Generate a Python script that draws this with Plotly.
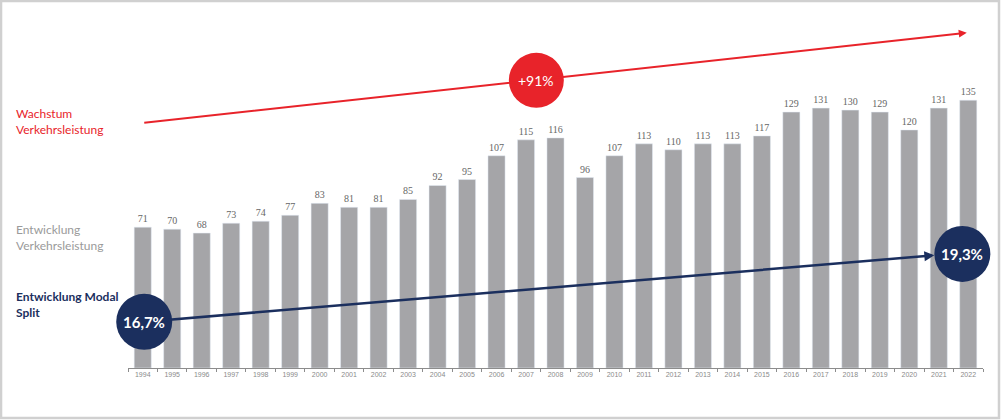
import plotly.graph_objects as go

years = [str(y) for y in range(1994, 2023)]
leistung = [71, 70, 68, 73, 74, 77, 83, 81, 81, 85, 92, 95, 107, 115, 116,
            96, 107, 113, 110, 113, 113, 117, 129, 131, 130, 129, 120, 131, 135]
wachstum_label = "+91%"
modal_split = ["16,7%", "19,3%"]

red = "#e8232a"
navy = "#1b2f5e"
grey_bar = "#a5a5a8"

n = len(years)


def px_(idx):
    # category index -> paper x (range is [-0.5, n-0.5])
    return (idx + 0.5) / n


fig = go.Figure()
fig.add_bar(x=years, y=leistung, marker_color=grey_bar, width=0.58,
            text=leistung, textposition="outside",
            textfont=dict(family="Liberation Serif", size=10, color="#666666"),
            cliponaxis=False, hoverinfo="x+y")

annotations = [
    # red growth arrow
    dict(x=27.95, y=169, ax=0.0, ay=123.5, xref="x", yref="y", axref="x", ayref="y",
         showarrow=True, arrowhead=2, arrowsize=0.8, arrowwidth=2, arrowcolor=red, text=""),
    # navy modal split arrow
    dict(x=26.85, y=56.8, ax=0.05, ay=23.3, xref="x", yref="y", axref="x", ayref="y",
         showarrow=True, arrowhead=2, arrowsize=0.8, arrowwidth=2.5, arrowcolor=navy, text=""),
    dict(x=13.35, y=145, xref="x", yref="y", text=wachstum_label, showarrow=False,
         font=dict(family="Lato", size=14, color="white")),
    dict(x=0.05, y=23.3, xref="x", yref="y", text="<b>" + modal_split[0] + "</b>", showarrow=False,
         font=dict(family="Lato", size=15, color="white")),
    dict(x=27.8, y=57.5, xref="x", yref="y", text="<b>" + modal_split[1] + "</b>", showarrow=False,
         font=dict(family="Lato", size=15, color="white")),
    # left side labels
    dict(x=-0.133, y=124.5, xref="paper", yref="y", xanchor="left", align="left",
         text="Wachstum<br>Verkehrsleistung", showarrow=False,
         font=dict(family="Lato", size=12, color=red)),
    dict(x=-0.133, y=66, xref="paper", yref="y", xanchor="left", align="left",
         text="Entwicklung<br>Verkehrsleistung", showarrow=False,
         font=dict(family="Lato", size=12, color="#9a9a9a")),
    dict(x=-0.133, y=31.8, xref="paper", yref="y", xanchor="left", align="left",
         text="<b>Entwicklung Modal<br>Split</b>", showarrow=False,
         font=dict(family="Lato", size=12, color=navy)),
]

shapes = [
    dict(type="circle", xref="paper", yref="y", xsizemode="pixel", ysizemode="pixel",
         xanchor=px_(13.35), yanchor=145, x0=-27.5, x1=27.5, y0=-27.5, y1=27.5,
         fillcolor=red, line=dict(width=0), layer="above"),
    dict(type="circle", xref="paper", yref="y", xsizemode="pixel", ysizemode="pixel",
         xanchor=px_(0.05), yanchor=23.3, x0=-28, x1=28, y0=-28, y1=28,
         fillcolor=navy, line=dict(width=0), layer="above"),
    dict(type="circle", xref="paper", yref="y", xsizemode="pixel", ysizemode="pixel",
         xanchor=px_(27.8), yanchor=57.5, x0=-28, x1=28, y0=-28, y1=28,
         fillcolor=navy, line=dict(width=0), layer="above"),
    # outer frame
    dict(type="rect", xref="paper", yref="paper", x0=-0.1485, x1=1.0187, y0=-0.136, y1=1.0,
         line=dict(color="#d0d0d0", width=2.5), fillcolor="rgba(0,0,0,0)"),
]

fig.update_layout(
    width=1002, height=420,
    margin=dict(l=128, r=19, t=1, b=52),
    paper_bgcolor="white", plot_bgcolor="white",
    showlegend=False,
    annotations=annotations, shapes=shapes,
    xaxis=dict(type="category", range=[-0.5, n - 0.5], showgrid=False, zeroline=False,
               showline=True, linecolor="#8c8c8c", linewidth=1,
               ticks="outside", tickson="boundaries", ticklen=3, tickcolor="#8c8c8c",
               tickfont=dict(family="Liberation Sans", size=7, color="#8a8a8a")),
    yaxis=dict(range=[0, 185], visible=False),
)

fig.write_html("out.html", config={"displayModeBar": False},
               post_script="document.body.style.margin='0';")
